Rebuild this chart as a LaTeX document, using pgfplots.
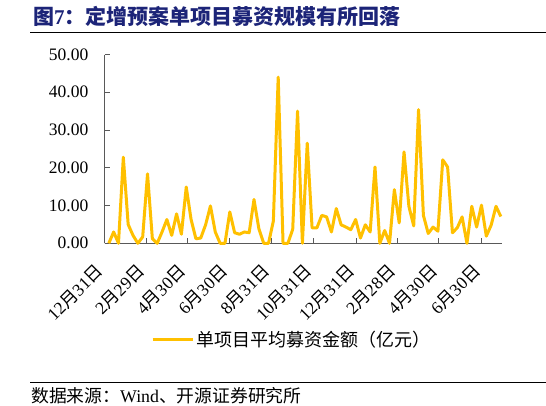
\documentclass[border=0pt]{standalone}
\usepackage{fontspec}
\usepackage{pgfplots}
\pgfplotsset{compat=1.18}
\setmainfont{Liberation Serif}
\newfontfamily\cjk{Noto Sans CJK SC}
\newcommand\M{{\cjk 月}}
\newcommand\D{{\cjk 日}}
\definecolor{gold}{HTML}{FFC000}
\definecolor{navy}{RGB}{28,36,120}
\definecolor{axgray}{HTML}{595959}

\pgfplotstableread{
i v
0 0
1 3.0
2 0
3 22.8
4 5.0
5 2.1
6 0
7 1.7
8 18.4
9 1.2
10 0
11 3.0
12 6.3
13 2.1
14 7.8
15 2.4
16 14.9
17 6.3
18 1.2
19 1.4
20 4.9
21 9.9
22 3.0
23 0
24 0
25 8.3
26 2.8
27 2.4
28 3.0
29 2.8
30 11.6
31 3.9
32 0
33 0
34 5.9
35 44.0
36 0
37 0
38 3.7
39 35.0
40 0
41 26.5
42 4.1
43 4.1
44 7.4
45 7.0
46 3.0
47 9.2
48 4.9
49 4.3
50 3.6
51 6.3
52 1.4
53 4.9
54 3.0
55 20.2
56 0
57 3.4
58 0
59 14.2
60 5.4
61 24.2
62 9.8
63 4.6
64 35.4
65 7.4
66 2.6
67 4.3
68 3.2
69 22.1
70 20.2
71 2.8
72 4.1
73 7.0
74 0
75 9.8
76 4.3
77 10.1
78 1.9
79 4.8
80 9.8
81 7.1
}\avg

\begin{document}
\begin{tikzpicture}
\path[use as bounding box] (0pt,0pt) rectangle (546pt,405pt);

% title and rules
\node[anchor=base west, inner sep=0pt, text=navy] at (33pt,380pt)
  {\fontsize{21}{23}\selectfont\bfseries{\cjk 图}7{\cjk ：定增预案单项目募资规模有所回落}};
\draw[line width=0.8pt] (30pt,373pt) -- (546pt,373pt);
\draw[line width=0.8pt] (30pt,23pt) -- (546pt,23pt);
\node[anchor=base west, inner sep=0pt] at (31pt,3pt)
  {\fontsize{17.8}{19}\selectfont{\cjk 数据来源：}Wind{\cjk 、开源证券研究所}};

\begin{axis}[
  at={(104.5pt,161.7pt)}, anchor=south west,
  scale only axis, width=397.2pt, height=188.8pt,
  xmin=-0.89, xmax=81.18, ymin=0, ymax=50,
  clip=false,
  axis x line*=bottom, axis y line*=left,
  axis line style={draw=axgray, line width=0.8pt},
  tick style={draw=axgray, line width=0.8pt},
  tick align=inside, major tick length=5pt,
  ytick={0,10,20,30,40,50},
  /pgf/number format/assume math mode=true,
  yticklabel style={/pgf/number format/fixed, /pgf/number format/fixed zerofill,
    /pgf/number format/precision=2,
    font=\fontsize{17.5}{20}\selectfont, anchor=east, inner sep=0pt, xshift=-16pt},
  xtick={-0.89, 7.67, 16.23, 24.89, 33.55, 42.21, 51.08, 59.53, 68.19, 77.06},
  xticklabels={12\M31\D, 2\M29\D, 4\M30\D, 6\M30\D, 8\M31\D, 10\M31\D, 12\M31\D, 2\M28\D, 4\M30\D, 6\M30\D},
  xticklabel style={font=\fontsize{17.5}{20}\selectfont, inner sep=0pt,
    xshift=1pt, yshift=-30pt, rotate=45, anchor=south east},
  legend style={at={(axis description cs:0.117,-0.508)}, anchor=west,
    draw=none, fill=none, inner sep=0pt,
    font=\fontsize{18}{20}\selectfont\cjk},
  legend image code/.code={\draw[#1] (0pt,0pt) -- (40pt,0pt);},
]
\addplot[gold, line width=3pt, line join=round] table[x=i, y=v] {\avg};
\addlegendentry{单项目平均募资金额（亿元）}
\end{axis}
\end{tikzpicture}
\end{document}
